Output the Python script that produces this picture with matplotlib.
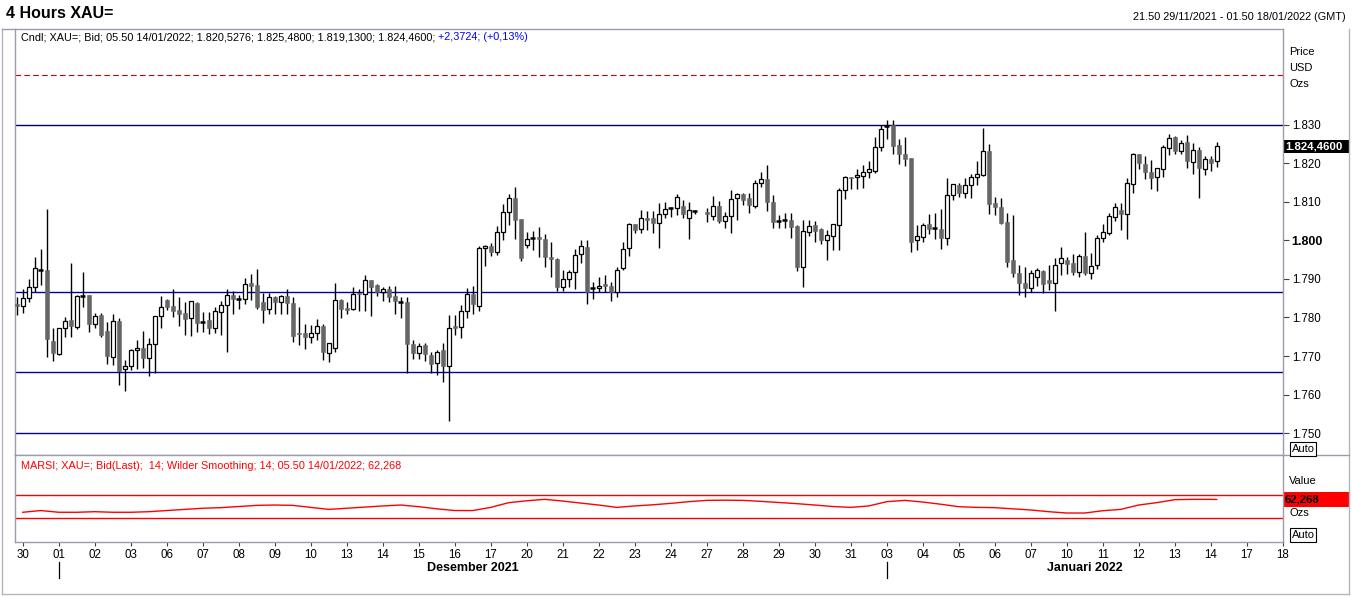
import matplotlib
matplotlib.use('Agg')
import matplotlib.pyplot as plt
import matplotlib.transforms as mtransforms
from matplotlib.patches import Rectangle
from matplotlib.lines import Line2D

plt.rcParams['font.family'] = ['Liberation Sans', 'DejaVu Sans']

W, H = 1352, 596

# 4 hour candles, XAU= bid, from 21.50 29/11/2021 (None = missing bar)
opens = [
    1783.4, 1783.0, 1785.0, 1788.0, 1792.4, 1792.3, 1773.9, 1770.4, 1777.2, 1779.3,
    1777.6, 1785.6, 1785.8, 1778.2, 1780.6, 1776.5, 1769.8, 1779.1, 1766.5, 1767.5,
    1771.5, 1772.1, 1769.4, 1773.0, 1780.3, 1784.5, 1783.0, 1781.9, 1781.1, 1779.8,
    1783.7, 1778.8, 1779.3, 1777.2, 1781.5, 1783.2, 1785.8, 1784.7, 1784.9, 1789.0,
    1788.4, 1784.1, 1782.1, 1785.4, 1784.1, 1785.6, 1783.8, 1775.9, 1775.9, 1775.0,
    1776.0, 1777.8, 1770.9, 1772.2, 1784.5, 1782.4, 1782.2, 1786.2, 1786.2, 1789.7,
    1788.4, 1786.7, 1787.4, 1785.6, 1784.1, 1783.9, 1773.0, 1770.7, 1772.8, 1770.2,
    1768.1, 1771.5, 1767.4, 1777.9, 1777.6, 1781.7, 1786.1, 1783.1, 1798.0, 1798.6,
    1797.1, 1802.3, 1807.3, 1810.9, 1805.6, 1798.8, 1800.7, 1800.8, 1800.5, 1795.8,
    1795.2, 1788.0, 1789.9, 1791.7, 1796.5, 1798.4, 1787.6, 1787.6, 1788.6, 1788.3,
    1786.5, 1792.8, 1798.0, 1804.3, 1802.9, 1805.8, 1805.8, 1804.5, 1806.8, 1808.5,
    1808.3, 1809.0, 1805.8, 1807.7, None, 1807.5, 1806.4, 1809.0, 1805.1, 1806.4,
    1811.0, 1812.1, 1811.0, 1809.0, 1814.8, 1815.9, 1810.1, 1805.1, 1805.2, 1805.3,
    1803.8, 1793.0, 1802.1, 1804.0, 1802.9, 1800.1, 1801.2, 1803.9, 1813.1, 1816.5,
    1816.4, 1816.8, 1817.9, 1818.1, 1824.2, 1829.7, 1830.0, 1824.8, 1822.5, 1821.3,
    1800.0, 1800.8, 1804.3, 1803.2, 1803.0, 1800.6, 1811.7, 1814.4, 1812.4, 1814.4,
    1816.4, 1817.0, 1823.3, 1809.7, 1808.6, 1804.9, 1794.8, 1791.5, 1788.9, 1787.6,
    1790.6, 1792.1, 1789.7, 1789.0, 1794.1, 1795.0, 1794.1, 1791.9, 1796.0, 1791.5,
    1793.5, 1800.6, 1802.0, 1806.2, 1807.9, 1806.8, 1814.6, 1822.4, 1819.8, 1817.7,
    1816.4, 1818.5, 1823.9, 1826.8, 1823.3, 1825.5, 1820.3, 1823.5, 1818.6, 1821.2,
    1820.5276,
]
highs = [
    1785.4, 1787.3, 1790.0, 1795.6, 1797.9, 1808.1, 1777.2, 1777.4, 1780.2, 1794.2,
    1785.9, 1791.9, 1785.9, 1781.1, 1781.1, 1778.9, 1780.8, 1779.8, 1768.9, 1771.8,
    1774.1, 1776.5, 1774.7, 1780.3, 1785.7, 1784.9, 1787.4, 1785.4, 1784.1, 1784.4,
    1784.1, 1781.5, 1781.5, 1782.8, 1784.3, 1787.4, 1786.9, 1785.8, 1790.3, 1791.3,
    1792.7, 1786.4, 1786.4, 1785.6, 1785.8, 1787.3, 1785.4, 1782.8, 1778.3, 1778.0,
    1779.6, 1778.3, 1773.4, 1789.0, 1784.9, 1784.1, 1787.8, 1787.3, 1791.0, 1789.7,
    1788.8, 1787.8, 1788.1, 1788.1, 1785.4, 1785.4, 1774.1, 1773.3, 1773.4, 1771.1,
    1771.5, 1773.3, 1780.6, 1780.6, 1783.2, 1787.6, 1788.2, 1798.6, 1798.8, 1799.4,
    1803.8, 1809.5, 1812.1, 1814.0, 1805.6, 1802.3, 1802.5, 1803.6, 1801.8, 1799.7,
    1795.5, 1792.3, 1792.3, 1797.9, 1800.1, 1800.1, 1789.3, 1790.6, 1791.0, 1789.3,
    1793.0, 1799.7, 1804.6, 1804.3, 1807.9, 1807.7, 1807.7, 1809.6, 1810.1, 1808.8,
    1812.1, 1810.5, 1810.1, 1807.9, None, 1808.5, 1811.6, 1810.3, 1807.5, 1813.1,
    1812.2, 1812.2, 1812.2, 1815.7, 1817.9, 1819.6, 1811.8, 1806.6, 1807.2, 1807.2,
    1804.0, 1805.3, 1805.3, 1805.1, 1803.2, 1802.7, 1804.3, 1813.6, 1816.8, 1816.6,
    1818.6, 1819.6, 1820.7, 1826.8, 1830.0, 1831.3, 1831.3, 1826.3, 1826.8, 1821.3,
    1804.0, 1804.5, 1806.9, 1807.2, 1808.2, 1816.2, 1814.7, 1814.9, 1816.2, 1817.3,
    1820.5, 1829.1, 1825.1, 1811.2, 1811.0, 1807.1, 1806.6, 1793.6, 1793.0, 1792.3,
    1792.8, 1792.3, 1793.6, 1795.4, 1798.2, 1795.8, 1796.4, 1796.4, 1802.3, 1796.7,
    1801.3, 1804.3, 1807.1, 1809.7, 1809.8, 1816.3, 1822.8, 1822.5, 1821.8, 1820.9,
    1818.9, 1824.8, 1827.6, 1827.0, 1826.1, 1827.4, 1825.2, 1824.2, 1821.8, 1822.0,
    1825.48,
]
lows = [
    1780.6, 1781.2, 1784.1, 1786.7, 1788.4, 1769.8, 1768.8, 1770.2, 1775.0, 1775.0,
    1776.9, 1782.8, 1776.3, 1777.2, 1775.0, 1767.8, 1767.6, 1762.4, 1761.0, 1766.3,
    1766.5, 1766.8, 1764.9, 1765.7, 1777.3, 1782.0, 1780.2, 1777.9, 1775.4, 1775.2,
    1776.3, 1776.3, 1775.6, 1775.9, 1775.4, 1771.1, 1781.0, 1782.2, 1783.5, 1784.5,
    1782.2, 1778.6, 1781.0, 1781.0, 1780.8, 1781.0, 1773.7, 1772.8, 1771.8, 1773.3,
    1774.1, 1768.9, 1768.5, 1771.1, 1779.9, 1781.0, 1781.9, 1781.7, 1781.7, 1780.4,
    1785.6, 1784.3, 1784.1, 1781.0, 1779.9, 1765.7, 1769.1, 1769.1, 1768.8, 1765.5,
    1765.1, 1763.3, 1753.2, 1775.4, 1774.8, 1779.8, 1780.8, 1781.8, 1793.4, 1796.0,
    1796.2, 1800.0, 1804.0, 1800.5, 1794.7, 1798.0, 1797.5, 1795.8, 1793.2, 1790.6,
    1786.9, 1787.0, 1787.8, 1787.4, 1794.1, 1783.5, 1784.8, 1786.7, 1786.7, 1784.4,
    1785.2, 1792.3, 1796.0, 1801.9, 1802.0, 1802.7, 1801.9, 1798.1, 1805.8, 1806.2,
    1806.6, 1805.9, 1800.3, 1806.8, None, 1804.9, 1805.3, 1804.5, 1803.3, 1802.0,
    1805.3, 1809.2, 1807.2, 1808.5, 1814.0, 1807.7, 1803.3, 1803.2, 1803.2, 1800.6,
    1792.2, 1788.0, 1801.2, 1799.7, 1799.0, 1794.8, 1797.5, 1797.4, 1810.7, 1813.3,
    1813.3, 1813.7, 1816.2, 1817.4, 1823.1, 1826.3, 1822.5, 1819.9, 1819.4, 1797.1,
    1797.4, 1799.7, 1801.7, 1800.4, 1797.7, 1798.8, 1810.5, 1811.2, 1811.0, 1811.0,
    1814.4, 1816.8, 1806.9, 1806.5, 1804.3, 1793.2, 1790.6, 1785.8, 1785.2, 1786.5,
    1788.3, 1786.3, 1787.1, 1781.7, 1791.0, 1791.3, 1791.0, 1790.6, 1791.0, 1789.9,
    1792.6, 1799.5, 1801.4, 1805.1, 1802.7, 1800.4, 1812.4, 1818.6, 1816.0, 1813.4,
    1812.9, 1816.6, 1822.2, 1822.5, 1822.5, 1818.9, 1817.3, 1811.0, 1817.0, 1818.1,
    1819.13,
]
closes = [
    1783.0, 1785.0, 1788.0, 1792.8, 1792.4, 1774.3, 1770.8, 1777.2, 1779.2, 1777.8,
    1785.7, 1785.6, 1778.2, 1780.5, 1775.4, 1770.1, 1779.1, 1766.2, 1767.4, 1771.5,
    1772.0, 1769.4, 1773.0, 1780.3, 1782.6, 1782.8, 1781.7, 1780.9, 1779.6, 1784.2,
    1778.6, 1778.8, 1777.2, 1781.6, 1783.2, 1785.8, 1784.8, 1784.7, 1788.8, 1788.2,
    1782.8, 1781.9, 1785.2, 1784.1, 1785.6, 1783.8, 1775.2, 1775.8, 1775.0, 1776.1,
    1777.8, 1771.1, 1773.3, 1784.5, 1782.3, 1781.9, 1786.1, 1786.0, 1789.7, 1788.0,
    1786.5, 1787.4, 1785.4, 1784.3, 1784.1, 1773.0, 1770.7, 1772.7, 1770.4, 1767.8,
    1771.1, 1767.5, 1777.4, 1777.4, 1781.7, 1786.1, 1783.4, 1798.1, 1798.5, 1797.1,
    1802.1, 1807.3, 1810.9, 1805.3, 1795.4, 1800.5, 1800.7, 1800.4, 1795.8, 1795.2,
    1788.0, 1789.9, 1791.7, 1796.2, 1798.6, 1786.5, 1787.6, 1788.3, 1788.2, 1786.5,
    1792.3, 1797.8, 1804.3, 1802.7, 1805.8, 1805.3, 1804.6, 1806.8, 1808.1, 1808.5,
    1811.2, 1806.8, 1807.9, 1807.7, None, 1806.8, 1809.0, 1805.1, 1806.4, 1810.7,
    1812.1, 1810.5, 1809.2, 1814.8, 1815.9, 1810.1, 1804.9, 1805.1, 1805.2, 1803.6,
    1793.0, 1802.5, 1803.8, 1802.5, 1800.1, 1801.4, 1804.2, 1813.1, 1816.4, 1816.3,
    1816.9, 1817.9, 1818.5, 1824.2, 1828.9, 1829.7, 1824.6, 1822.4, 1821.2, 1799.7,
    1801.2, 1804.0, 1803.0, 1803.2, 1800.7, 1811.7, 1814.6, 1812.3, 1814.4, 1816.4,
    1817.2, 1823.3, 1809.4, 1808.6, 1804.6, 1794.5, 1791.5, 1788.9, 1787.6, 1791.5,
    1792.3, 1788.7, 1789.0, 1793.6, 1795.4, 1793.9, 1791.9, 1796.0, 1791.6, 1793.4,
    1800.7, 1802.3, 1806.4, 1808.8, 1806.8, 1814.9, 1822.4, 1820.0, 1817.7, 1816.1,
    1818.7, 1824.2, 1826.5, 1823.3, 1825.4, 1820.5, 1823.5, 1818.7, 1821.1, 1820.0,
    1824.46,
]

# horizontal lines drawn on the chart
support_lines = [1786.6, 1765.8, 1750.0]
resistance_line = 1830.0
dashed_line = 1843.0

# MARSI(14), read twice per trading day
rsi_values = [
    40, 43, 40, 40, 41, 40, 40, 41, 43, 45, 47, 48, 50, 52, 52.6, 52, 48.5, 45,
    47, 49, 51, 52.6, 49.7, 46, 43, 43, 48.5, 56.7, 60, 62.5, 59.5, 56, 52.6, 48.5,
    51, 53, 55.5, 58.4, 60.7, 61, 60.7, 59, 57, 55, 52.6, 50, 48.5, 51, 58.4, 60.7,
    57.8, 54, 49.7, 48.5, 48, 46, 44, 41, 38.7, 38.7, 42.7, 45, 52.6, 56.7, 61.9,
    62.5, 62.5, 62.268,
]
rsi_levels = [70, 30]

day_labels = ['30', '01', '02', '03', '06', '07', '08', '09', '10', '13', '14', '15',
              '16', '17', '20', '21', '22', '23', '24', '27', '28', '29', '30', '31',
              '03', '04', '05', '06', '07', '10', '11', '12', '13', '14', '17', '18']
month_labels = ['Desember 2021', 'Januari 2022']
month_start_days = [1, 24]

BARS_PER_DAY = 6
grey = '#666666'
frame = '#9c9caa'


def fx(px):
    return px / W


def fy(py):
    return 1 - py / H


def price_label(v):
    whole = int(v)
    frac = round((v - whole) * 10000)
    return f'{whole // 1000}.{whole % 1000:03d},{frac:04d}'


fig = plt.figure(figsize=(W / 100, H / 100), dpi=100)
fig.patch.set_facecolor('white')

ax = fig.add_axes([fx(15), fy(455), fx(1283) - fx(15), fy(29) - fy(455)])
ax_rsi = fig.add_axes([fx(15), fy(542), fx(1283) - fx(15), fy(455) - fy(542)], sharex=ax)

# candles
for i, (o, h, l, c) in enumerate(zip(opens, highs, lows, closes)):
    if o is None:
        continue
    ax.vlines(i, l, h, color='black', lw=1.0, zorder=2)
    if c > o:
        ax.bar(i, c - o, bottom=o, width=0.72, facecolor='white', edgecolor='black',
               linewidth=0.9, zorder=3)
    elif c < o:
        ax.bar(i, max(o - c, 0.3), bottom=c, width=0.72, facecolor=grey,
               edgecolor=grey, linewidth=0.4, zorder=3)
    else:
        ax.hlines(o, i - 0.4, i + 0.4, color='black', lw=1.8, zorder=3)

for lvl in support_lines:
    ax.axhline(lvl, color='#0000a0', lw=1.0, zorder=1)
ax.axhline(resistance_line, color='#000060', lw=1.0, zorder=1)
ax.axhline(dashed_line, color='#cc0000', lw=0.8, ls=(0, (5, 3)), zorder=1)

ax.set_ylim(1744.3, 1854.9)
ax.set_xlim(-0.3, 211.05)
ticks = list(range(1750, 1831, 10))
ax.set_yticks(ticks)
ax.set_yticklabels([f'{t / 1000:.3f}' for t in ticks])
ax.yaxis.tick_right()
ax.tick_params(axis='y', direction='out', length=4.3, width=0.8, color='#404040',
               labelsize=8.3, pad=2)
for lab in ax.get_yticklabels():
    if lab.get_text() == '1.800':
        lab.set_fontweight('bold')
        lab.set_fontsize(9)
ax.tick_params(axis='x', which='both', bottom=False, labelbottom=False)
for s in ax.spines.values():
    s.set_color(frame)
    s.set_linewidth(1.0)

# last price box
blend = mtransforms.blended_transform_factory(ax.transAxes, ax.transData)
last = closes[-1]
ax.add_patch(Rectangle((1.0006, last - 1.7), 66 / 1268, 3.4, transform=blend,
                       facecolor='black', edgecolor='none', clip_on=False))
ax.text(1.002, last, price_label(last), transform=blend, ha='left', va='center',
        color='white', fontsize=8.2, fontweight='bold')

# RSI panel
rsi_x = [1 + 3 * k for k in range(len(rsi_values) - 1)] + [len(closes) - 1]
ax_rsi.plot(rsi_x, rsi_values, color='red', lw=1.0)
for lvl in rsi_levels:
    ax_rsi.axhline(lvl, color='red', lw=1.0)
ax_rsi.set_ylim(-11.7, 139.6)
ax_rsi.set_yticks([])
for s in ax_rsi.spines.values():
    s.set_color(frame)
    s.set_linewidth(1.0)

tick_pos = [BARS_PER_DAY * d + 1 for d in range(len(day_labels))]
ax_rsi.set_xticks(tick_pos)
ax_rsi.set_xticklabels(day_labels)
ax_rsi.tick_params(axis='x', direction='out', length=3, width=0.8, color='#404040',
                   labelsize=8.3, pad=2)
ax_rsi.set_xlim(-0.3, 211.05)

blend_r = mtransforms.blended_transform_factory(ax_rsi.transAxes, ax_rsi.transData)
rsi_last = rsi_values[-1]
ax_rsi.add_patch(Rectangle((1.0006, rsi_last - 12.5), 66 / 1268, 25, transform=blend_r,
                           facecolor='red', edgecolor='none', clip_on=False))
ax_rsi.text(1.0012, rsi_last, f'{rsi_last:.3f}'.replace('.', ','), transform=blend_r,
            ha='left', va='center', color='black', fontsize=8.2, fontweight='bold')

# month markers
blend_x = mtransforms.blended_transform_factory(ax_rsi.transData, ax_rsi.transAxes)
month_ticks = [tick_pos[d] for d in month_start_days]
for mt in month_ticks:
    ax_rsi.plot([mt, mt], [-0.23, -0.41], color='black', lw=0.9, transform=blend_x,
                clip_on=False)
month_bounds = month_ticks + [tick_pos[-1]]
for k, name in enumerate(month_labels):
    mid = (month_bounds[k] + month_bounds[k + 1]) / 2
    ax_rsi.text(mid, -0.30, name, transform=blend_x, ha='center', va='center',
                fontsize=9, fontweight='bold')

# header texts
fig.text(fx(6), fy(13), '4 Hours XAU=', fontsize=11.5, fontweight='bold',
         va='center', ha='left')
fig.text(fx(1346), fy(17), '21.50 29/11/2021 - 01.50 18/01/2022 (GMT)', fontsize=7.8,
         va='center', ha='right')
t1 = fig.text(fx(21), fy(37),
              'Cndl; XAU=; Bid; 05.50 14/01/2022; 1.820,5276; 1.825,4800; '
              '1.819,1300; 1.824,4600; ',
              fontsize=7.8, va='center', ha='left')
ax.annotate('+2,3724; (+0,13%)', xy=(1, 0), xycoords=t1, va='bottom', ha='left',
            fontsize=7.8, color='#0000ff', annotation_clip=False)

fig.text(fx(21), fy(466),
         'MARSI; XAU=; Bid(Last);  14; Wilder Smoothing; 14; 05.50 14/01/2022; 62,268',
         fontsize=7.8, color='red', va='center', ha='left')

for label, ypx in [('Price', 52), ('USD', 68), ('Ozs', 84), ('Value', 481), ('Ozs', 513)]:
    fig.text(fx(1289), fy(ypx), label, fontsize=8, va='center', ha='left')
for ypx in [449, 535]:
    fig.text(fx(1303), fy(ypx), 'Auto', fontsize=8, va='center', ha='center',
             bbox=dict(facecolor='white', edgecolor='black', lw=0.8, pad=1.2))

# outer frame
lc = '#b4b4bc'
fig.add_artist(Line2D([fx(2), fx(2)], [fy(29), fy(594)], color=lc, lw=1.0))
fig.add_artist(Line2D([fx(2), fx(1349)], [fy(594), fy(594)], color=lc, lw=1.0))
fig.add_artist(Line2D([fx(1349), fx(1349)], [fy(29), fy(594)], color=lc, lw=1.0))
fig.add_artist(Line2D([fx(2), fx(15)], [fy(29), fy(29)], color=frame, lw=1.0))
fig.add_artist(Line2D([fx(1283), fx(1349)], [fy(455), fy(455)], color=frame, lw=1.0))

fig.savefig('out.png', dpi=100)
